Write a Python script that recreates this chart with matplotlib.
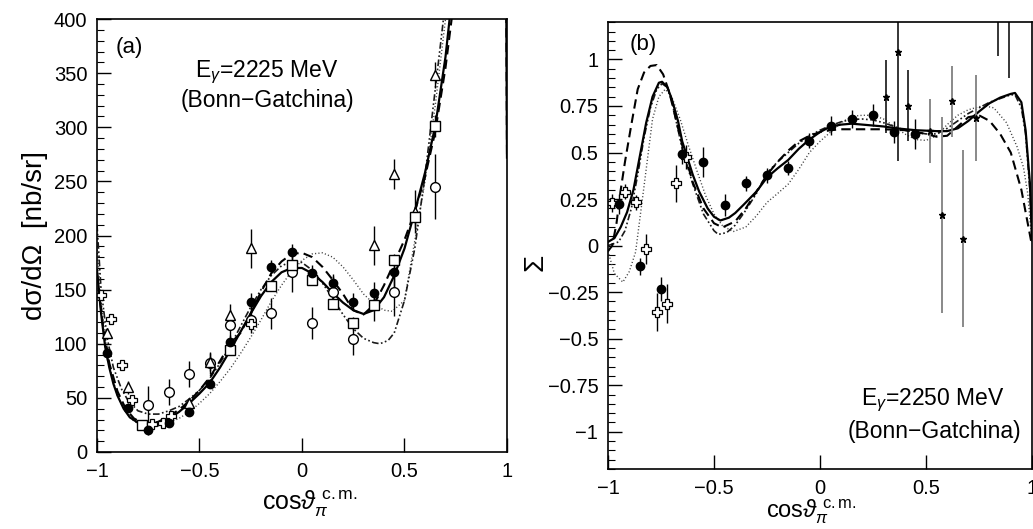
import matplotlib
matplotlib.use("Agg")
import matplotlib.pyplot as plt
from matplotlib.ticker import MultipleLocator

plt.rcParams['font.family'] = ['Liberation Sans', 'DejaVu Sans']
plt.rcParams['mathtext.fontset'] = 'custom'
plt.rcParams['mathtext.rm'] = 'Liberation Sans'
plt.rcParams['mathtext.it'] = 'Liberation Sans:italic'

# ---------------- panel (a): dsigma/dOmega, E=2225 MeV ----------------
a_full_x = [-0.95, -0.85, -0.75, -0.65, -0.55, -0.45, -0.35, -0.25, -0.15, -0.05,
            0.05, 0.15, 0.25, 0.35, 0.45]
a_full_y = [91, 41, 20, 27, 37, 63, 102, 139, 171, 185, 165, 156, 139, 147, 166]
a_full_e = [6, 4, 4, 4, 4, 4, 6, 8, 6, 7, 8, 8, 8, 10, 15]

a_circ_x = [-0.75, -0.65, -0.55, -0.45, -0.35, -0.25, -0.15, -0.05, 0.05, 0.15,
            0.25, 0.35, 0.45, 0.65]
a_circ_y = [43, 55, 72, 82, 117, 122, 128, 166, 119, 148, 104, 136, 148, 245]
a_circ_e = [18, 12, 12, 10, 12, 12, 14, 18, 15, 15, 14, 15, 22, 30]

a_tri_x = [-0.95, -0.85, -0.55, -0.45, -0.35, -0.25, 0.35, 0.45, 0.55, 0.65]
a_tri_y = [110, 60, 45, 83, 127, 188, 191, 257, 222, 348]
a_tri_e = [5, 6, 5, 8, 10, 18, 18, 14, 20, 12]

a_sq_x = [-0.78, -0.35, -0.15, -0.05, 0.05, 0.15, 0.25, 0.35, 0.45, 0.55, 0.65]
a_sq_y = [25, 94, 153, 173, 159, 137, 119, 136, 177, 217, 301]
a_sq_e = [3, 4, 4, 5, 5, 5, 6, 6, 6, 10, 10]

a_cross_x = [-0.98, -0.93, -0.88, -0.83, -0.73, -0.68, -0.64, -0.25]
a_cross_y = [145, 123, 80, 48, 26, 27, 33, 118]
a_cross_e = [4, 3, 3, 3, 3, 3, 3, 4]

a_solid_x = [-1.0, -0.98, -0.96, -0.94, -0.92, -0.9, -0.87, -0.84, -0.8, -0.76, -0.72,
             -0.68, -0.64, -0.6, -0.55, -0.5, -0.45, -0.4, -0.35, -0.3, -0.25, -0.2,
             -0.15, -0.1, -0.05, 0.0, 0.05, 0.1, 0.15, 0.2, 0.25, 0.3, 0.35, 0.4,
             0.45, 0.5, 0.55, 0.6, 0.65, 0.7, 0.72, 0.75, 0.995, 1.0]
a_solid_y = [168, 128, 97, 78, 63, 52, 40, 32, 27, 23, 24, 28, 32, 37, 45, 54, 64,
             78, 94, 111, 128, 144, 157, 166, 170, 170, 165, 157, 147, 138, 131,
             127.5, 131, 143, 163, 188, 222, 258, 301, 365, 400, 470, 470, 272]

a_dash_x = [-1.0, -0.97, -0.94, -0.9, -0.86, -0.82, -0.78, -0.74, -0.7, -0.65, -0.6,
            -0.55, -0.5, -0.45, -0.4, -0.35, -0.3, -0.25, -0.2, -0.15, -0.1, -0.05,
            0.0, 0.05, 0.1, 0.15, 0.2, 0.25, 0.3, 0.35, 0.4, 0.45, 0.5, 0.55, 0.6,
            0.65, 0.7, 0.73, 0.76, 0.995, 1.0]
a_dash_y = [165, 115, 82, 56, 40, 31, 27, 26, 28, 33, 39, 47, 57, 69, 84, 100, 110,
            128, 148, 165, 176, 183, 184, 180, 171, 159, 146, 131, 127, 136, 154,
            175, 196, 222, 254, 296, 355, 400, 470, 470, 275]

a_dot_x = [-1.0, -0.98, -0.96, -0.93, -0.9, -0.87, -0.83, -0.79, -0.75, -0.7, -0.65,
           -0.6, -0.55, -0.5, -0.45, -0.4, -0.35, -0.3, -0.25, -0.2, -0.15, -0.1,
           -0.05, 0.0, 0.05, 0.1, 0.15, 0.2, 0.25, 0.3, 0.35, 0.4, 0.44, 0.5, 0.55,
           0.6, 0.65, 0.7, 0.73]
a_dot_y = [190, 140, 105, 72, 52, 40, 30, 25, 23, 24, 27, 31, 37, 45, 54, 65, 77,
           91, 106, 122, 139, 154, 167, 177, 183, 184, 180, 171, 159, 146, 137, 131,
           130, 140, 195, 250, 320, 400, 470]

a_dd_x = [-1.0, -0.98, -0.95, -0.92, -0.88, -0.85, -0.8, -0.75, -0.7, -0.65, -0.6,
          -0.55, -0.5, -0.45, -0.4, -0.35, -0.3, -0.25, -0.2, -0.15, -0.1, -0.05,
          0.0, 0.05, 0.1, 0.15, 0.2, 0.25, 0.3, 0.35, 0.38, 0.42, 0.45, 0.5, 0.55,
          0.6, 0.65, 0.69, 0.72]
a_dd_y = [210, 150, 105, 78, 58, 48, 38, 35, 35, 38, 42, 49, 57, 68, 82, 98, 116,
          134, 150, 163, 172, 176, 175, 168, 156, 142, 127, 114, 105, 101, 100, 103,
          110, 140, 188, 255, 335, 400, 470]

# ---------------- panel (b): Sigma, E=2250 MeV ----------------
b_full_x = [-0.95, -0.85, -0.75, -0.65, -0.55, -0.45, -0.35, -0.25, -0.15, -0.05,
            0.05, 0.15, 0.25, 0.35, 0.45]
b_full_y = [0.223, -0.112, -0.235, 0.494, 0.449, 0.218, 0.334, 0.378, 0.417, 0.563,
            0.645, 0.681, 0.702, 0.612, 0.601]
b_full_e = [0.055, 0.045, 0.065, 0.055, 0.08, 0.06, 0.04, 0.04, 0.035, 0.04, 0.05,
            0.05, 0.06, 0.06, 0.08]

b_cross_x = [-0.98, -0.92, -0.87, -0.82, -0.77, -0.72, -0.68, -0.63]
b_cross_y = [0.228, 0.289, 0.232, -0.02, -0.356, -0.312, 0.335, 0.478]
b_cross_e = [0.05, 0.04, 0.04, 0.08, 0.1, 0.105, 0.1, 0.065]

b_star_x = [0.311, 0.366, 0.417, 0.842, 0.893]
b_star_y = [0.80, 1.04, 0.752, 1.5, 1.55]
b_star_e = [0.195, 0.585, 0.19, 0.48, 0.65]

b_gstar_x = [0.519, 0.575, 0.621, 0.673, 0.736]
b_gstar_y = [0.615, 0.164, 0.776, 0.036, 0.687]
b_gstar_e = [0.17, 0.525, 0.19, 0.475, 0.23]

b_solid_x = [-1.0, -0.97, -0.94, -0.91, -0.88, -0.85, -0.82, -0.79, -0.76, -0.745,
             -0.72, -0.7, -0.67, -0.65, -0.6, -0.57, -0.53, -0.5, -0.47, -0.43,
             -0.4, -0.36, -0.3, -0.25, -0.2, -0.15, -0.1, -0.05, 0.0, 0.05, 0.1,
             0.15, 0.2, 0.25, 0.3, 0.36, 0.45, 0.55, 0.6, 0.65, 0.7, 0.75, 0.8,
             0.85, 0.9, 0.92, 0.95, 0.97, 0.99, 1.0]
b_solid_y = [0.02, 0.04, 0.1, 0.18, 0.3, 0.48, 0.66, 0.8, 0.875, 0.88, 0.85, 0.79,
             0.67, 0.56, 0.38, 0.29, 0.2, 0.155, 0.135, 0.15, 0.175, 0.22, 0.29,
             0.366, 0.415, 0.46, 0.52, 0.57, 0.61, 0.64, 0.65, 0.655, 0.65, 0.645,
             0.64, 0.63, 0.62, 0.615, 0.615, 0.63, 0.67, 0.72, 0.765, 0.795, 0.815,
             0.82, 0.77, 0.62, 0.34, 0.05]

b_dash_x = [-1.0, -0.98, -0.96, -0.94, -0.92, -0.89, -0.86, -0.83, -0.8, -0.77,
            -0.74, -0.71, -0.68, -0.65, -0.6, -0.55, -0.5, -0.46, -0.4, -0.35, -0.3,
            -0.25, -0.2, -0.15, -0.1, -0.05, 0.0, 0.05, 0.1, 0.2, 0.3, 0.4, 0.5,
            0.55, 0.6, 0.65, 0.7, 0.75, 0.8, 0.85, 0.9, 0.95, 0.98, 1.0]
b_dash_y = [-0.03, 0.0, 0.12, 0.3, 0.45, 0.65, 0.84, 0.93, 0.965, 0.97, 0.92, 0.82,
            0.68, 0.54, 0.34, 0.2, 0.12, 0.098, 0.13, 0.2, 0.29, 0.38, 0.45, 0.51,
            0.56, 0.59, 0.61, 0.62, 0.625, 0.625, 0.625, 0.62, 0.6, 0.585, 0.59,
            0.64, 0.69, 0.7, 0.67, 0.6, 0.5, 0.3, 0.12, 0.0]

b_dot_x = [-1.0, -0.97, -0.93, -0.9, -0.87, -0.83, -0.79, -0.76, -0.73, -0.7, -0.66,
           -0.62, -0.58, -0.54, -0.5, -0.46, -0.41, -0.35, -0.3, -0.25, -0.2, -0.15,
           -0.1, -0.05, 0.0, 0.05, 0.1, 0.15, 0.2, 0.25, 0.3, 0.35, 0.4, 0.45, 0.5,
           0.55, 0.6, 0.65, 0.7, 0.77, 0.82, 0.88, 0.93, 0.96, 0.98, 1.0]
b_dot_y = [-0.03, -0.15, -0.196, -0.14, -0.035, 0.32, 0.68, 0.8, 0.84, 0.8, 0.68,
           0.535, 0.4, 0.27, 0.17, 0.107, 0.075, 0.1, 0.16, 0.232, 0.28, 0.33,
           0.41, 0.5, 0.56, 0.61, 0.66, 0.695, 0.7, 0.7, 0.68, 0.64, 0.6, 0.57,
           0.565, 0.59, 0.65, 0.7, 0.73, 0.752, 0.74, 0.66, 0.53, 0.42, 0.28, 0.02]

b_dd_x = [-1.0, -0.95, -0.92, -0.89, -0.86, -0.83, -0.8, -0.77, -0.745, -0.72, -0.7,
          -0.65, -0.6, -0.55, -0.5, -0.48, -0.44, -0.4, -0.35, -0.3, -0.25, -0.2,
          -0.15, -0.1, -0.05, 0.0, 0.05, 0.1, 0.15, 0.2, 0.25, 0.3, 0.4, 0.5, 0.55,
          0.6, 0.65, 0.7, 0.75, 0.8, 0.85, 0.9, 0.92, 0.95, 0.97, 0.99, 1.0]
b_dd_y = [0.0, 0.02, 0.08, 0.2, 0.38, 0.58, 0.74, 0.84, 0.87, 0.85, 0.78, 0.52,
          0.33, 0.17, 0.08, 0.06, 0.07, 0.11, 0.19, 0.28, 0.39, 0.45, 0.5, 0.55,
          0.59, 0.62, 0.645, 0.665, 0.678, 0.68, 0.675, 0.66, 0.62, 0.6, 0.6, 0.63,
          0.67, 0.71, 0.74, 0.77, 0.79, 0.81, 0.81, 0.74, 0.6, 0.3, 0.02]

DASH = (0, (4.5, 2.5))
DOT = (0, (0.8, 1.6))
DASHDOT = (0, (4, 1.5, 1, 1.5, 1, 1.5))
TICKFS = 14.5
XLAB = r'cos$\vartheta_{\pi}^{\ \mathrm{c.m.}}$'

fig = plt.figure(figsize=(10.33, 5.29), dpi=100)
ax1 = fig.add_axes([0.0939, 0.1456, 0.3969, 0.8184])
ax2 = fig.add_axes([0.5886, 0.1134, 0.4104, 0.8446])


def style_axis(ax):
    ax.tick_params(which='both', direction='in', top=False, right=False,
                   labelsize=TICKFS, pad=7)
    ax.tick_params(which='major', length=10, width=1)
    ax.tick_params(which='minor', length=5, width=0.8)
    for s in ax.spines.values():
        s.set_linewidth(1.2)


ebar = dict(ls='none', ecolor='black', elinewidth=1, capsize=0)

# panel (a)
ax1.plot(a_dot_x, a_dot_y, color='0.25', lw=1.0, ls=DOT)
ax1.plot(a_dd_x, a_dd_y, color='0.1', lw=1.2, ls=DASHDOT)
ax1.plot(a_dash_x, a_dash_y, color='black', lw=1.5, ls=DASH)
ax1.plot(a_solid_x, a_solid_y, color='black', lw=1.6)

ax1.errorbar(a_circ_x, a_circ_y, yerr=a_circ_e, fmt='o', ms=7, mfc='white',
             mec='black', mew=1, **ebar)
ax1.errorbar(a_tri_x, a_tri_y, yerr=a_tri_e, fmt='^', ms=7, mfc='white',
             mec='black', mew=1, **ebar)
ax1.errorbar(a_sq_x, a_sq_y, yerr=a_sq_e, fmt='s', ms=6.5, mfc='white',
             mec='black', mew=1, **ebar)
ax1.errorbar(a_cross_x, a_cross_y, yerr=a_cross_e, fmt='P', ms=7, mfc='white',
             mec='black', mew=0.9, **ebar)
ax1.errorbar(a_full_x, a_full_y, yerr=a_full_e, fmt='o', ms=6, mfc='black',
             mec='black', **ebar)

ax1.set_xlim(-1, 1)
ax1.set_ylim(0, 400)
ax1.yaxis.set_major_locator(MultipleLocator(50))
ax1.yaxis.set_minor_locator(MultipleLocator(10))
ax1.set_xticks([-1, -0.5, 0, 0.5, 1])
ax1.set_xticklabels(['\u22121', '\u22120.5', '0', '0.5', '1'])
style_axis(ax1)
ax1.set_ylabel('d\u03c3/d\u03a9  [nb/sr]', fontsize=20)
ax1.yaxis.set_label_coords(-0.12, 0.5)
ax1.set_xlabel(XLAB, fontsize=18)
ax1.xaxis.set_label_coords(0.52, -0.085)
ax1.text(0.045, 0.935, '(a)', transform=ax1.transAxes, fontsize=16, va='center')
ax1.text(0.415, 0.878, 'E$_{\\gamma}$=2225 MeV', transform=ax1.transAxes,
         fontsize=16.5, ha='center', va='center')
ax1.text(0.415, 0.813, '(Bonn\u2212Gatchina)', transform=ax1.transAxes,
         fontsize=16.5, ha='center', va='center')

# panel (b)
ax2.plot(b_dot_x, b_dot_y, color='0.25', lw=1.0, ls=DOT)
ax2.plot(b_dd_x, b_dd_y, color='0.1', lw=1.2, ls=DASHDOT)
ax2.plot(b_dash_x, b_dash_y, color='black', lw=1.5, ls=DASH)
ax2.plot(b_solid_x, b_solid_y, color='black', lw=1.6)

ax2.errorbar(b_gstar_x, b_gstar_y, yerr=b_gstar_e, fmt='*', ms=5, mfc='black',
             mec='black', ls='none', ecolor='0.5', elinewidth=1.3, capsize=0)
ax2.errorbar(b_star_x, b_star_y, yerr=b_star_e, fmt='*', ms=5, mfc='black',
             mec='black', ls='none', ecolor='black', elinewidth=1.1, capsize=0)
ax2.errorbar(b_cross_x, b_cross_y, yerr=b_cross_e, fmt='P', ms=7, mfc='white',
             mec='black', mew=0.9, **ebar)
ax2.errorbar(b_full_x, b_full_y, yerr=b_full_e, fmt='o', ms=6, mfc='black',
             mec='black', **ebar)

ax2.set_xlim(-1, 1)
ax2.set_ylim(-1.2, 1.2)
ax2.set_xticks([-1, -0.5, 0, 0.5, 1])
ax2.set_xticklabels(['\u22121', '\u22120.5', '0', '0.5', '1'])
ax2.set_yticks([-1, -0.75, -0.5, -0.25, 0, 0.25, 0.5, 0.75, 1])
ax2.set_yticklabels(['\u22121', '\u22120.75', '\u22120.5', '\u22120.25', '0',
                     '0.25', '0.5', '0.75', '1'])
ax2.yaxis.set_minor_locator(MultipleLocator(0.05))
style_axis(ax2)
ax2.set_ylabel('\u03a3', fontsize=20)
ax2.yaxis.set_label_coords(-0.14, 0.463)
ax2.set_xlabel(XLAB, fontsize=17)
ax2.xaxis.set_label_coords(0.48, -0.064)
ax2.text(0.052, 0.95, '(b)', transform=ax2.transAxes, fontsize=16, va='center')
ax2.text(0.765, 0.154, 'E$_{\\gamma}$=2250 MeV', transform=ax2.transAxes,
         fontsize=16.5, ha='center', va='center')
ax2.text(0.77, 0.083, '(Bonn\u2212Gatchina)', transform=ax2.transAxes,
         fontsize=16.5, ha='center', va='center')

fig.savefig('out.png', dpi=100)
